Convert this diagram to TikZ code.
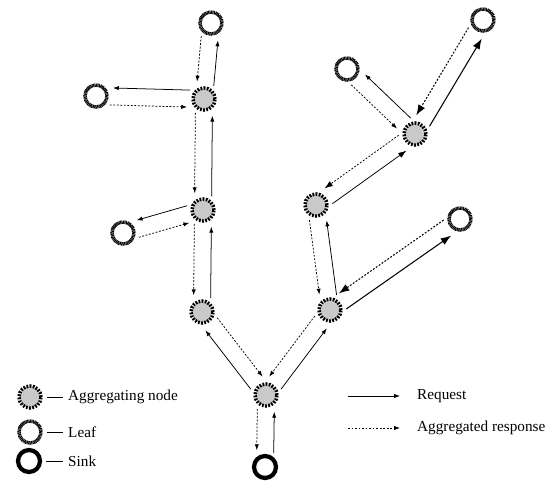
\documentclass[tikz,border=0pt]{standalone}
\usepackage{fontspec}
\setmainfont{Liberation Serif}
\usetikzlibrary{arrows.meta,calc,positioning}

\tikzset{
  aggnode/.style={circle,minimum size=0.66cm,inner sep=0pt,fill=gray!42,draw=black,
    line width=3pt,dash pattern=on 1.5pt off 1.2pt},
  leafnode/.style={circle,minimum size=0.66cm,inner sep=0pt,fill=white,draw=black,
    line width=3pt,dash pattern=on 0.8pt off 0.45pt},
  sinknode/.style={circle,minimum size=0.66cm,inner sep=0pt,draw=black,line width=3.6pt},
  req/.style={draw,line width=0.65pt},
  resp/.style={draw,line width=0.65pt,dash pattern=on 1.6pt off 1.4pt},
  tipsm/.style={-{Latex[length=5pt,width=3.6pt]}},
  tipmd/.style={-{Latex[length=7pt,width=5pt]}},
  tipbg/.style={-{Latex[length=9pt,width=6.5pt]},line width=0.9pt},
  lbl/.style={anchor=west,inner sep=0.15cm,font=\fontsize{13}{15}\selectfont},
  leg/.style={line width=0.8pt,shorten <=0.12cm}
}

\begin{document}
\begin{tikzpicture}[x=0.03cm,y=-0.03cm]
\useasboundingbox (0,0) rectangle (551,481);
% tree
\node[sinknode] (S) at (265,467) {};
\node[aggnode] (A0) at (266,395) {};
\node[aggnode] (A1) at (202,312) {};
\node[aggnode] (A2) at (203,210) {};
\node[aggnode] (A3) at (204,99) {};
\node[aggnode] (B1) at (330,310) {};
\node[aggnode] (B2) at (316,205) {};
\node[aggnode] (B3) at (415,134) {};
\node[leafnode] (L1) at (211,23) {};
\node[leafnode] (L2) at (96,96) {};
\node[leafnode] (L3) at (123,233) {};
\node[leafnode] (R1) at (483,20) {};
\node[leafnode] (R2) at (347,69) {};
\node[leafnode] (R3) at (460,219) {};
% request out, aggregated response back
\foreach \p/\c/\a/\t in {S/A0/-90/sm,A0/A1/90/sm,A0/B1/-90/sm,A1/A2/-90/sm,
    A2/A3/-90/sm,A3/L1/-90/sm,A3/L2/-90/sm,A2/L3/-90/sm,B1/B2/-90/sm,
    B1/R3/-90/bg,B2/B3/-90/md,B3/R1/-90/bg,B3/R2/-90/sm}{
  \pgfmathsetmacro\b{-\a}
  \draw[req,tip\t] ($(\p)!0.42cm!(\c)!0.255cm!\a:(\c)$) -- ($(\c)!0.5cm!(\p)!0.255cm!\b:(\p)$);
  \draw[resp,tip\t] ($(\c)!0.42cm!(\p)!0.255cm!\a:(\p)$) -- ($(\p)!0.5cm!(\c)!0.255cm!\b:(\c)$);
}
% legend
\node[aggnode] (lgA) at (30,397) {};
\node[leafnode] (lgL) at (30,432) {};
\node[sinknode] (lgS) at (29,461) {};
\node[lbl] (tA) at (63,397) {Aggregating node};
\node[lbl] (tL) at (63,432) {Leaf};
\node[lbl] (tS) at (63,461) {Sink};
\draw[leg] (lgA) -- (tA);
\draw[leg] (lgL) -- (tL);
\draw[leg] (lgS) -- (tS);
\coordinate (rq0) at (348,396);
\coordinate (rq1) at (400,396);
\coordinate (rs0) at (348,428);
\coordinate (rs1) at (400,428);
\draw[req,tipsm] (rq0) -- (rq1);
\draw[resp,tipsm] (rs0) -- (rs1);
\node[lbl] (tR) at (412,396) {Request};
\node[lbl] (tP) at (412,428) {Aggregated response};
\end{tikzpicture}
\end{document}
